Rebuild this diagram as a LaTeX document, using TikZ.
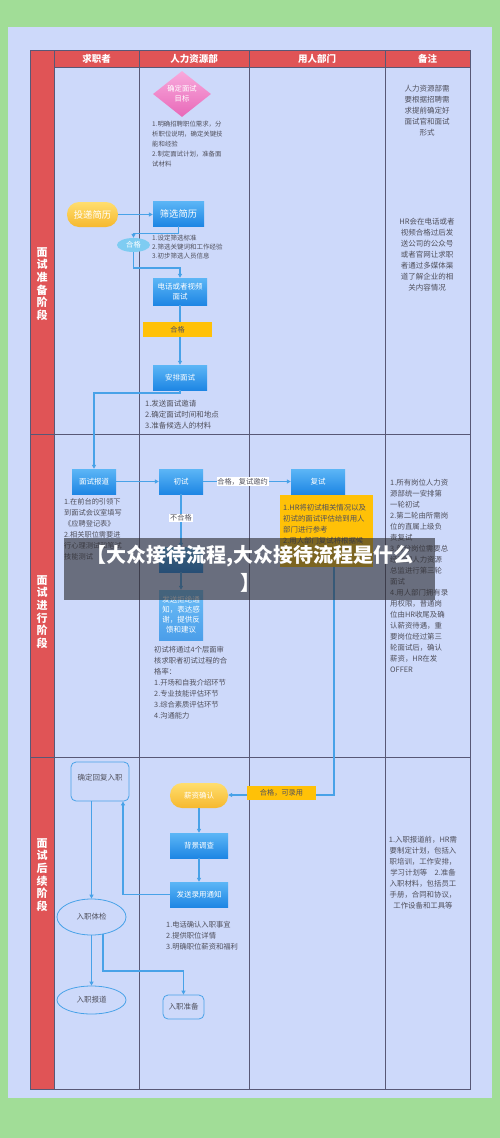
\documentclass[tikz,border=0pt]{standalone}
\usepackage{fontspec}
\setmainfont{Noto Sans CJK SC}
\usetikzlibrary{shapes.geometric,arrows.meta}
\definecolor{bggreen}{RGB}{161,221,151}
\definecolor{panel}{RGB}{205,217,250}
\definecolor{hdr}{RGB}{224,84,86}
\definecolor{gridc}{RGB}{88,88,118}
\definecolor{conn}{RGB}{72,162,232}
\definecolor{txt}{RGB}{80,80,92}
\definecolor{amber}{RGB}{255,193,7}
\definecolor{btop}{RGB}{92,182,246}
\definecolor{bbot}{RGB}{30,134,228}
\definecolor{ytop}{RGB}{255,222,110}
\definecolor{ybot}{RGB}{246,184,46}
\definecolor{ptop}{RGB}{248,170,220}
\definecolor{pbot}{RGB}{232,104,184}
\definecolor{cyanl}{RGB}{126,204,242}
\definecolor{bandc}{RGB}{45,45,50}
\tikzset{
  bluebox/.style={rectangle, top color=btop, bottom color=bbot, draw=none, text=white,
    font=\fontsize{7.5}{10}\selectfont, inner sep=0, align=center},
  pill/.style={rectangle, rounded corners=12pt, top color=ytop, bottom color=ybot, draw=none,
    text=white, font=\fontsize{7.5}{10}\selectfont, inner sep=0},
  outl/.style={draw=conn, line width=0.8pt, text=txt, font=\fontsize{7.5}{10}\selectfont, inner sep=0},
  ambbar/.style={rectangle, fill=amber, text=txt, font=\fontsize{7.2}{9}\selectfont, inner sep=0},
  whitelab/.style={rectangle, fill=white, text=txt, font=\fontsize{7.2}{9}\selectfont, inner sep=0.8pt},
  notetxt/.style={text=txt, inner sep=0, anchor=north west, align=left},
  remtxt/.style={text=txt, inner sep=0, anchor=north, align=center, font=\fontsize{7.5}{11}\selectfont},
  conline/.style={draw=conn, line width=1.1pt},
  carrow/.style={conline, -{Triangle[length=4pt,width=4pt]}},
  hdrtxt/.style={text=white, font=\fontsize{9.5}{11}\selectfont\bfseries, inner sep=0},
  sectxt/.style={text=white, font=\fontsize{11}{12.7}\selectfont\bfseries, inner sep=0, align=center},
  gridline/.style={draw=gridc, line width=0.7pt}
}
\begin{document}
\begin{tikzpicture}[x=1pt,y=-1pt]
\useasboundingbox (0,0) rectangle (500,1138);
\fill[bggreen] (0,0) rectangle (500,1138);
\fill[panel] (8,27) rectangle (492,1098);
% table
\fill[hdr] (30,50) rectangle (470,67);
\fill[hdr] (30,67) rectangle (54,1089);
\draw[gridline] (30,50) rectangle (470,1089);
\foreach \xx in {54,139,249,385} \draw[gridline] (\xx,50) -- (\xx,1089);
\draw[gridline] (54,67) -- (470,67);
\draw[gridline] (30,434) -- (470,434);
\draw[gridline] (30,757) -- (470,757);
% headers
\node[hdrtxt] (h1) at (96.5,58.5) {求职者};
\node[hdrtxt] (h2) at (194,58.5) {人力资源部};
\node[hdrtxt] (h3) at (317,58.5) {用人部门};
\node[hdrtxt] (h4) at (427.5,58.5) {备注};
\node[sectxt] (s1) at (42,284) {面\\试\\准\\备\\阶\\段};
\node[sectxt] (s2) at (42,612) {面\\试\\进\\行\\阶\\段};
\node[sectxt] (s3) at (42,875) {面\\试\\后\\续\\阶\\段};

% section 1
\node[diamond, minimum width=58pt, minimum height=42pt, inner sep=0, top color=ptop, bottom color=pbot,
  text=white, font=\fontsize{7.3}{10}\selectfont, align=center] (mubiao) at (182,94) {确定面试\\目标};
\node[notetxt, font=\fontsize{6.4}{10}\selectfont] (t1) at (152,120.5) {1.明确招聘职位需求，分\\析职位说明，确定关键技\\能和经验\\2.制定面试计划，准备面\\试材料};
\node[pill, minimum width=51pt, minimum height=25pt, font=\fontsize{9.3}{10}\selectfont] (toudi) at (92.5,214.5) {投递简历};
\node[bluebox, minimum width=51pt, minimum height=25pt, font=\fontsize{9.3}{10}\selectfont] (shaixuan) at (178.5,213.5) {筛选简历};
\node[ellipse, fill=cyanl, text=white, minimum width=33pt, minimum height=14pt, inner sep=0,
  font=\fontsize{7.3}{9}\selectfont] (hege1) at (133.5,245) {合格};
\node[notetxt, font=\fontsize{6.5}{9.2}\selectfont] (t2) at (152,234.5) {1.设定筛选标准\\2.筛选关键词和工作经验\\3.初步筛选人员信息};
\node[bluebox, minimum width=54pt, minimum height=27pt] (dianhua) at (180,291.5) {电话或者视频\\面试};
\node[bluebox, minimum width=54pt, minimum height=25pt] (anpai) at (180,377.5) {安排面试};
\node[notetxt, font=\fontsize{7.5}{11}\selectfont] (t3) at (145,399.5) {1.发送面试邀请\\2.确定面试时间和地点\\3.准备候选人的材料};
\node[remtxt] (r1) at (427,84.5) {人力资源部需\\要根据招聘需\\求提前确定好\\面试官和面试\\形式};
\node[remtxt] (r2) at (427,217.5) {HR会在电话或者\\视频合格过后发\\送公司的公众号\\或者官网让求职\\者通过多媒体渠\\道了解企业的相\\关内容情况};

% section 2
\node[bluebox, minimum width=44pt, minimum height=25pt] (baodao) at (94,481.5) {面试报道};
\node[bluebox, minimum width=44pt, minimum height=25pt] (chushi) at (181,481.5) {初试};
\node[bluebox, minimum width=54pt, minimum height=25pt] (fushi) at (318,481.5) {复试};
\node[rectangle, fill=amber, minimum width=93pt, minimum height=72pt, inner sep=0] (fsnote) at (326.5,531) {};
\node[notetxt, font=\fontsize{7.4}{10.7}\selectfont] (t7) at (283,504.5) {1.HR将初试相关情况以及\\初试的面试评估给到用人\\部门进行参考\\2.用人部门复试将根据候};
\node[bluebox, minimum width=44pt, minimum height=25pt] (taotai) at (181,559.5) {};
\node[bluebox, minimum width=44pt, minimum height=50pt, top color=btop!90!white, bottom color=bbot!80!white] (jujue) at (181,615) {发送拒绝通\\知，表达感\\谢，提供反\\馈和建议};
\node[notetxt, font=\fontsize{7.2}{11}\selectfont] (t4) at (64,498.5) {1.在前台的引领下\\到面试会议室填写\\《应聘登记表》\\2.相关职位需要进\\行心理测试和笔试\\技能测试};
\node[notetxt, font=\fontsize{7.3}{11}\selectfont] (t5) at (154,646.5) {初试将通过4个层面审\\核求职者初试过程的合\\格率：\\1.开场和自我介绍环节\\2.专业技能评估环节\\3.综合素质评估环节\\4.沟通能力};
\node[notetxt, font=\fontsize{7.4}{11}\selectfont] (r3) at (390,479.5) {1.所有岗位人力资\\源部统一安排第\\一轮初试\\2.第二轮由所需岗\\位的直属上级负\\责复试\\3.部分岗位需要总\\经理和人力资源\\总监进行第三轮\\面试\\4.用人部门拥有录\\用权限，普通岗\\位由HR收尾及确\\认薪资待遇，重\\要岗位经过第三\\轮面试后，确认\\薪资，HR在发\\OFFER};

% section 3
\node[outl, rectangle, rounded corners=5pt, minimum width=58pt, minimum height=39pt] (queding) at (100,781.5) {};
\node[text=txt, font=\fontsize{7.5}{10}\selectfont, inner sep=0] (qdtxt) at (100,778) {确定回复入职};
\node[pill, minimum width=58pt, minimum height=25pt] (xinzi) at (199,795.5) {薪资确认};
\node[bluebox, minimum width=58pt, minimum height=25pt] (beijing) at (199,845.5) {背景调查};
\node[bluebox, minimum width=58pt, minimum height=25pt] (luyong) at (199,894.5) {发送录用通知};
\node[outl, ellipse, minimum width=69pt, minimum height=36pt] (tijian) at (91.5,917) {入职体检};
\node[outl, ellipse, minimum width=69pt, minimum height=28pt] (baodao2) at (91.5,1000) {入职报道};
\node[outl, rectangle, rounded corners=5pt, minimum width=41pt, minimum height=24pt] (zhunbei) at (183.5,1007) {入职准备};
\node[notetxt, font=\fontsize{7.3}{11}\selectfont] (t6) at (166,921) {1.电话确认入职事宜\\2.提供职位详情\\3.明确职位薪资和福利};
\node[remtxt, font=\fontsize{7.4}{10.9}\selectfont] (r4) at (423,836.5) {1.入职报道前，HR需\\要制定计划，包括入\\职培训，工作安排，\\学习计划等\quad 2.准备\\入职材料，包括员工\\手册，合同和协议，\\工作设备和工具等};

% coordinates
\coordinate (c1) at (0,268);
\coordinate (c2) at (0,393);
\coordinate (v1) at (334,795);
\coordinate (v2) at (123,894);
\coordinate (c3) at (103,934);
\coordinate (c4) at (103,971);

% connectors
\draw[carrow] (toudi.east) -- (toudi.east -| shaixuan.west);
\draw[carrow] (shaixuan.south) -- ++(0,7) -| (hege1.north);
\draw[carrow] (hege1.south) -- (hege1.south |- c1) -| (dianhua.north);
\draw[carrow] (dianhua.south) -- (anpai.north);
\draw[carrow] (anpai.south) -- (anpai.south |- c2) -| (baodao.north);
\draw[carrow] (baodao.east) -- (chushi.west);
\draw[carrow] (chushi.east) -- (fushi.west);
\draw[carrow] (chushi.south) -- (taotai.north);
\draw[carrow] (taotai.south) -- (jujue.north);
\draw[carrow] (fsnote.south -| v1) -- (v1) -- (xinzi.east |- v1);
\draw[carrow] (xinzi.south) -- (beijing.north);
\draw[carrow] (beijing.south) -- (luyong.north);
\draw[carrow] (luyong.west) -- (luyong.west -| v2) -- (v2 |- queding.south);
\draw[carrow] (queding.south -| tijian.north) -- (tijian.north);
\draw[carrow] (tijian.south) -- (baodao2.north);
\draw[carrow] (c3) -- (c4) -| (zhunbei.north);

% labels on connectors
\node[ambbar, minimum width=69pt, minimum height=15pt] (hege2) at (177.5,329.5) {合格};
\node[whitelab] (lab1) at (242.5,481.5) {合格，复试邀约};
\node[whitelab] (lab2) at (181,518) {不合格};
\node[ambbar, minimum width=69pt, minimum height=14pt] (hege3) at (281.5,793) {合格，可录用};

% overlay band
\fill[bandc, fill opacity=0.62] (64,538) rectangle (435,600);
\node[text=white, font=\fontsize{20}{28}\selectfont\bfseries, align=center, inner sep=0] (title) at (250,569) {【大众接待流程,大众接待流程是什么\\】};
\end{tikzpicture}
\end{document}
